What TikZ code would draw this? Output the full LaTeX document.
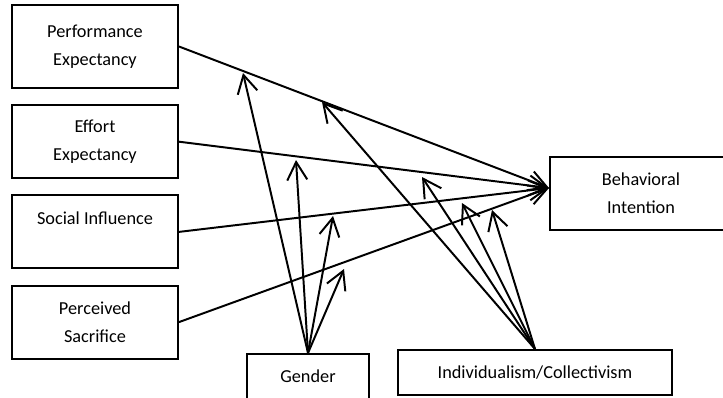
\documentclass[tikz,border=0pt]{standalone}
\usepackage{fontspec}
\setmainfont{Carlito}
\usetikzlibrary{positioning,arrows.meta}

\begin{document}
\begin{tikzpicture}[
  x=0.025cm, y=-0.025cm,
  line width=1.4pt,
  node distance=0.38cm,
  construct/.style={draw, minimum width=4.15cm, minimum height=1.825cm,
    align=center, inner sep=2pt, font=\fontsize{13}{20}\selectfont},
  moderator/.style={draw, minimum height=1.125cm, inner sep=2pt,
    font=\fontsize{13}{20}\selectfont},
  effect/.style={-{Straight Barb[length=0.45cm,width=0.5cm]}}
]
  \path[use as bounding box, clip] (0,0) rectangle (723,397);

  % Four predictors on the left, the outcome on the right.
  \node[construct, minimum height=2.075cm] (pe) at (95,46.5) {Performance\\Expectancy};
  \node[construct, below=of pe] (ee) {Effort\\Expectancy};
  \node[construct, below=of ee] (si) {Social Influence\\\mbox{}};
  \node[construct, below=of si] (ps) {Perceived\\Sacrifice};
  \node[construct, minimum width=4.55cm] (bi) at (641,193.5) {Behavioral\\Intention};

  % The two moderators along the bottom edge.
  \node[moderator, minimum width=3.05cm] (gen) at (308,376.5) {Gender};
  \node[moderator, minimum width=6.85cm] (ic) at (535,372.5) {Individualism/Collectivism};

  \coordinate (bi-in) at (549,188);

  % Where each moderating arrow meets a main path.
  \coordinate (g-pe) at (243,73);
  \coordinate (g-ee) at (296,160);
  \coordinate (g-si) at (333,216);
  \coordinate (g-ps) at (344,269);
  \coordinate (ic-pe) at (322,102);
  \coordinate (ic-ee) at (422,177);
  \coordinate (ic-si) at (462,203);
  \coordinate (ic-ps) at (492,210);

  \path[effect]
    (pe.east) edge (bi-in)
    (ee.east) edge (bi-in)
    (si.east) edge (bi-in)
    (ps.east) edge (bi-in);

  \path[effect]
    (gen.north) edge (g-pe)
                edge (g-ee)
                edge (g-si)
                edge (g-ps)
    (ic.north) edge (ic-pe)
               edge (ic-ee)
               edge (ic-si)
               edge (ic-ps);
\end{tikzpicture}
\end{document}
